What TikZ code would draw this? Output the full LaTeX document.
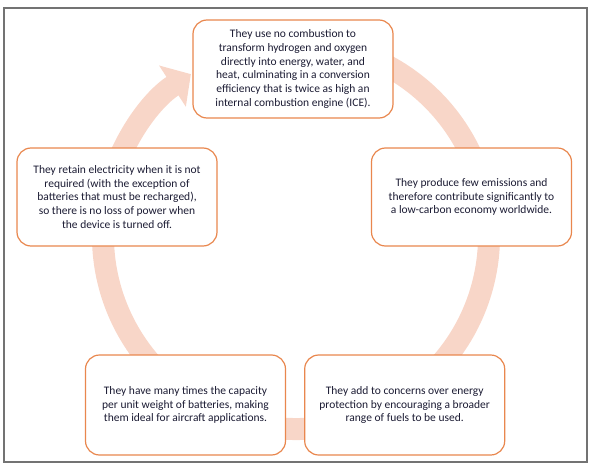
\documentclass[tikz,border=0pt]{standalone}
\usepackage{fontspec}
\setmainfont{Carlito}
\usepackage{xcolor}
\usetikzlibrary{arrows.meta,positioning}
\definecolor{edge}{RGB}{233,135,78}
\definecolor{ring}{RGB}{248,214,200}
\definecolor{ink}{RGB}{28,28,52}

\begin{document}
\begin{tikzpicture}[
x=1pt, y=1pt,
box/.style={draw=edge, line width=1.2pt, rounded corners=14pt, fill=white, align=center, text=ink, font=\fontsize{11.5}{13.8}\selectfont, minimum width=200pt, minimum height=98pt, inner sep=0pt},
cyc/.style={draw=ring, line width=22pt, -{Triangle[width=48pt,length=22pt]}},
panel/.style={draw=black!55, line width=1.5pt}
]
\useasboundingbox (0,0) rectangle (592,467);
\draw[panel] (4,5) rectangle (587,459);
\coordinate (hub) at (296,231);
\draw[cyc] ([shift={(75:193)}]hub) arc[start angle=75, end angle=-237, radius=193];
\node[box] (noburn) at (293,398) {They use no combustion to\\ transform hydrogen and oxygen\\ directly into energy, water, and\\ heat, culminating in a conversion\\ efficiency that is twice as high an\\ internal combustion engine (ICE).};
\node[box] (lowcarb) at (471.5,270) {They produce few emissions and\\ therefore contribute significantly to\\ a low-carbon economy worldwide.};
\node[box] (retain) at (117,270) {They retain electricity when it is not\\ required (with the exception of\\ batteries that must be recharged),\\ so there is no loss of power when\\ the device is turned off.};
\node[box, minimum height=100pt] (weight) at (185.5,62) {They have many times the capacity\\ per unit weight of batteries, making\\ them ideal for aircraft applications.};
\node[box, minimum height=100pt, right=18pt of weight] (fuels) {They add to concerns over energy\\ protection by encouraging a broader\\ range of fuels to be used.};
\end{tikzpicture}
\end{document}
